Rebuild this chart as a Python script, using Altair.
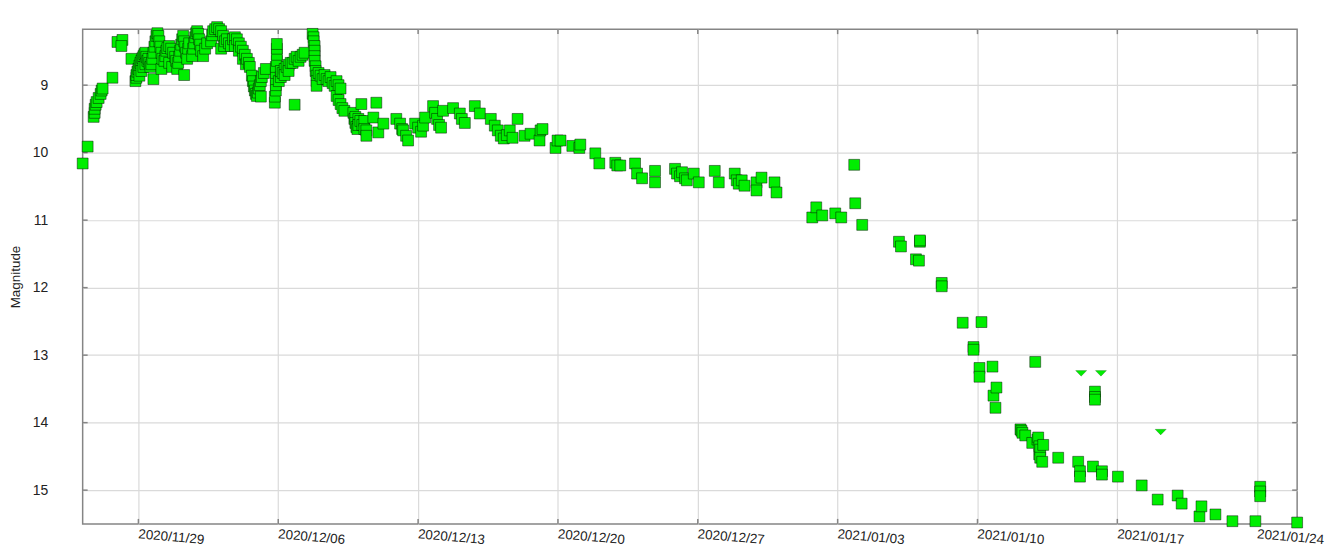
import altair as alt
import pandas as pd

# Observations: days after 2020-11-29 00:00 UTC, and magnitude
obs_day = [
    -2.79, -2.54, -2.24, -2.19, -2.19, -2.14, -2.09, -1.99, -1.89, -1.84, -1.79, -1.30, -1.05, -0.80, -0.85, -0.35,
    -0.15, -0.10, -0.10, -0.05, 0.00, 0.05, 0.05, 0.10, 0.15, 0.15, 0.20, 0.25, 0.25, 0.30, 0.35, 0.35, 0.40, 0.45,
    0.50, 0.55, 0.60, 0.65, 0.70, 0.75, 0.75, 0.80, 0.85, 0.90, 0.95, 1.00, 1.05, 1.10, 1.15, 1.15, 1.20,
    1.30, 1.35, 1.40, 1.45, 1.54, 1.54, 1.64, 1.69, 1.74, 1.84, 1.89,
    1.94, 1.99, 2.04, 2.09, 2.14, 2.19, 2.24, 2.29, 2.29, 2.34, 2.39, 2.44, 2.49, 2.54,
    2.69, 2.74, 2.79, 2.84, 2.89, 2.94, 2.99, 3.04, 3.09, 3.14, 3.24, 3.34, 3.44,
    3.64, 3.69, 3.74, 3.84, 3.94, 4.04, 4.14, 4.14, 4.24, 4.29, 4.34, 4.43, 4.53, 4.63,
    4.73, 4.83, 4.83, 4.93, 5.03, 5.03, 5.13, 5.23, 5.23, 5.33, 5.38, 5.43, 5.53, 5.58,
    5.68, 5.73, 5.78, 5.83, 5.88, 5.93, 5.98, 6.03, 6.08, 6.13, 6.13, 6.18, 6.28, 6.38,
    6.83, 6.83, 6.88, 6.88, 6.88, 6.88, 6.88, 6.93, 6.93, 6.93, 6.93,
    7.03, 7.13, 7.13, 7.22, 7.32, 7.32, 7.42, 7.52, 7.52, 7.62, 7.72, 7.82, 7.82, 7.92, 8.02, 8.12, 8.22, 8.32,
    8.72, 8.77, 8.77, 8.82, 8.82, 8.82, 8.82, 8.87, 8.87, 8.92, 8.92, 8.92,
    9.02, 9.12, 9.22, 9.32, 9.42, 9.52, 9.62, 9.72, 9.82, 9.92, 9.92, 10.02, 10.02, 10.12, 10.12, 10.21, 10.31,
    10.76, 10.81, 10.86, 10.86, 10.91, 10.96, 11.01, 11.01, 11.11, 11.16, 11.21, 11.31, 11.31, 11.41, 11.41, 11.76, 11.91, 12.01, 12.26,
    12.91, 13.10, 13.20, 13.25, 13.40, 13.50, 13.85, 14.00, 14.15, 14.25, 14.35, 14.75, 14.85, 14.95, 15.05, 15.15, 15.25,
    15.75, 16.09, 16.19, 16.34, 16.84, 17.09, 17.64, 17.84, 17.99, 18.14, 18.29, 18.44, 18.59, 18.73, 18.98, 19.33, 19.63,
    20.08, 20.13, 20.23, 20.88, 20.98,
    21.13, 21.72, 22.07, 22.12, 22.87, 23.07, 23.87, 23.97, 24.12, 24.86, 24.96, 25.21, 25.86, 25.86,
    26.86, 26.96, 27.11, 27.21, 27.36, 27.45, 27.80, 28.05, 28.85, 29.05, 29.85, 29.95, 30.05, 30.20, 30.34,
    30.94, 30.94, 31.19, 31.84, 31.94,
    33.73, 33.93, 34.23, 34.88, 35.18, 35.83, 35.88, 36.23, 38.07, 38.17, 38.92, 39.07, 39.12, 39.12,
    40.21, 40.21, 41.26, 41.80, 41.80, 42.10, 42.10, 42.20, 42.75, 42.80, 42.90, 42.95,
    44.15, 44.20, 44.25, 44.39, 44.74, 44.89, 45.00, 45.04, 45.09, 45.10, 45.14, 45.14, 45.24, 45.29,
    46.04, 47.04, 47.13, 47.13, 47.78, 47.88, 47.88, 47.88, 48.23, 48.23, 49.03, 50.22, 51.02, 52.02, 52.22,
    53.11, 53.21, 53.91, 54.76, 55.91, 56.15, 56.15, 56.15, 58.00,
]
obs_mag = [
    10.16, 9.91, 9.47, 9.41, 9.35, 9.29, 9.25, 9.19, 9.13, 9.08, 9.05, 8.89, 8.36, 8.33, 8.42, 8.61,
    8.94, 8.89, 8.85, 8.80, 8.76, 8.71, 8.86, 8.67, 8.64, 8.79, 8.60, 8.57, 8.73, 8.54, 8.52, 8.69, 8.58, 8.64,
    8.61, 8.67, 8.73, 8.69, 8.61, 8.52, 8.91, 8.43, 8.35, 8.27, 8.23, 8.27, 8.35, 8.43, 8.52, 8.76, 8.61,
    8.64, 8.57, 8.49, 8.45, 8.42, 8.67, 8.46, 8.73, 8.52, 8.58, 8.64,
    8.76, 8.67, 8.58, 8.49, 8.40, 8.32, 8.27, 8.35, 8.85, 8.43, 8.52, 8.61, 8.46, 8.38,
    8.57, 8.46, 8.38, 8.29, 8.23, 8.20, 8.24, 8.32, 8.40, 8.49, 8.57, 8.46, 8.38,
    8.35, 8.26, 8.20, 8.17, 8.14, 8.17, 8.20, 8.46, 8.27, 8.42, 8.35, 8.32, 8.38, 8.42,
    8.32, 8.29, 8.42, 8.32, 8.38, 8.49, 8.43, 8.49, 8.61, 8.55, 8.69, 8.61, 8.67, 8.73,
    8.86, 8.94, 9.02, 9.08, 9.13, 9.16, 9.11, 9.05, 9.00, 8.94, 9.17, 8.88, 8.82, 8.76,
    9.26, 9.17, 9.08, 9.00, 8.91, 8.82, 8.73, 8.64, 8.55, 8.46, 8.39,
    8.94, 8.88, 8.79, 8.82, 8.76, 8.85, 8.73, 8.70, 8.79, 8.67, 8.67, 8.61, 9.29, 8.58, 8.64, 8.58, 8.55, 8.52,
    8.24, 8.29, 8.35, 8.42, 8.49, 8.57, 8.64, 8.72, 8.79, 8.86, 8.94, 9.01,
    8.82, 8.86, 8.91, 8.85, 8.91, 8.94, 8.88, 8.97, 9.01, 8.94, 9.16, 9.00, 9.22, 9.05, 9.28, 9.34, 9.38,
    9.41, 9.50, 9.47, 9.56, 9.62, 9.65, 9.50, 9.59, 9.53, 9.28, 9.59, 9.53, 9.65, 9.67, 9.75, 9.48, 9.26, 9.70, 9.57,
    9.50, 9.57, 9.65, 9.67, 9.75, 9.82, 9.57, 9.63, 9.69, 9.60, 9.48, 9.31, 9.41, 9.50, 9.59, 9.63, 9.38,
    9.34, 9.42, 9.50, 9.56, 9.31, 9.42, 9.50, 9.60, 9.67, 9.75, 9.79, 9.74, 9.67, 9.78, 9.50, 9.75, 9.72,
    9.82, 9.67, 9.65, 9.93, 9.82,
    9.82, 9.90, 9.93, 9.88, 10.01, 10.16, 10.15, 10.19, 10.19, 10.16, 10.31, 10.38, 10.27, 10.44,
    10.24, 10.31, 10.35, 10.29, 10.38, 10.41, 10.31, 10.44, 10.27, 10.44, 10.31, 10.41, 10.46, 10.41, 10.49,
    10.44, 10.56, 10.37, 10.44, 10.59,
    10.96, 10.81, 10.93, 10.90, 10.96, 10.18, 10.75, 11.07, 11.32, 11.39, 11.58, 11.60, 11.32, 11.30,
    11.93, 11.98, 12.52, 12.88, 12.92, 13.19, 13.32, 12.51, 13.17, 13.60, 13.78, 13.48,
    14.10, 14.12, 14.15, 14.19, 14.30, 13.10, 14.25, 14.22, 14.47, 14.35, 14.40, 14.52, 14.58, 14.33,
    14.52, 14.58, 14.72, 14.80, 14.65, 13.54, 13.62, 13.66, 14.72, 14.77, 14.80, 14.93, 15.14, 15.08, 15.20,
    15.39, 15.24, 15.36, 15.46, 15.46, 14.95, 15.02, 15.09, 15.48,
]

# Fainter-than limits (down triangles)
lim_day = [47.19, 48.18, 51.17]
lim_mag = [13.27, 13.27, 14.14]

x_ticks = [0, 7, 14, 21, 28, 35, 42, 49, 56]
y_ticks = [9, 10, 11, 12, 13, 14, 15]

W, H = 1220, 497
GREEN = "#00ee00"
FRAME = "#858585"
FONT = "Liberation Sans"

obs = pd.DataFrame({"day": obs_day, "mag": obs_mag})
lim = pd.DataFrame({"day": lim_day, "mag": lim_mag})
xt = pd.DataFrame({"day": x_ticks})
yt = pd.DataFrame({"mag": y_ticks})

xscale = alt.Scale(domain=[-2.79, 58.0], nice=False, zero=False)
yscale = alt.Scale(domain=[8.17, 15.5], reverse=True, nice=False, zero=False)

xaxis = alt.Axis(
    values=x_ticks,
    labelExpr="utcFormat(utc(2020, 10, 29 + datum.value), '%Y/%m/%d')",
    labelAngle=5, labelAlign="left", labelBaseline="top", labelPadding=3,
    labelFont=FONT, labelFontSize=13.5, labelColor="#222",
    tickSize=0, domain=False, grid=True, gridColor="#dadada", gridWidth=1.2,
    title=None, labelOverlap=False, labelFlush=False,
)
yaxis = alt.Axis(
    values=y_ticks, format="d",
    labelPadding=35, labelFont=FONT, labelFontSize=14, labelColor="#222",
    tickSize=0, domain=False, grid=True, gridColor="#dadada", gridWidth=1.2,
    title="Magnitude", titleFont=FONT, titleFontSize=13.5, titleFontWeight="normal",
    titleColor="#222", titlePadding=10,
)

X = alt.X("day:Q", scale=xscale, axis=xaxis)
Y = alt.Y("mag:Q", scale=yscale, axis=yaxis)

tick_style = dict(color=FRAME, strokeWidth=1.5)
tl = alt.Chart(yt).mark_rule(**tick_style).encode(y=Y, x=alt.value(0), x2=alt.value(5))
tr = alt.Chart(yt).mark_rule(**tick_style).encode(y=Y, x=alt.value(W - 5), x2=alt.value(W))
tb = alt.Chart(xt).mark_rule(**tick_style).encode(x=X, y=alt.value(H - 5), y2=alt.value(H))
tt = alt.Chart(xt).mark_rule(**tick_style).encode(x=X, y=alt.value(0), y2=alt.value(5))

squares = alt.Chart(obs).mark_square(
    size=120, fill=GREEN, fillOpacity=1, opacity=1,
    stroke="black", strokeOpacity=0.45, strokeWidth=1,
).encode(x=X, y=Y)

tri = alt.Chart(lim).mark_point(
    shape="M-1,-0.5L1,-0.5L0,0.5Z", size=125, filled=True, fill=GREEN, opacity=1,
    stroke="black", strokeOpacity=0.25, strokeWidth=0.8,
).encode(x=X, y=Y)

chart = alt.layer(tl, tr, tb, tt, squares, tri).properties(
    width=W, height=H,
    autosize=alt.AutoSizeParams(type="none"),
    padding={"left": 75, "top": 20, "right": 30, "bottom": 26},
    background="white",
).configure_view(stroke=FRAME, strokeWidth=1.5)

chart.save("out.html", embed_options={"renderer": "svg", "actions": False})
